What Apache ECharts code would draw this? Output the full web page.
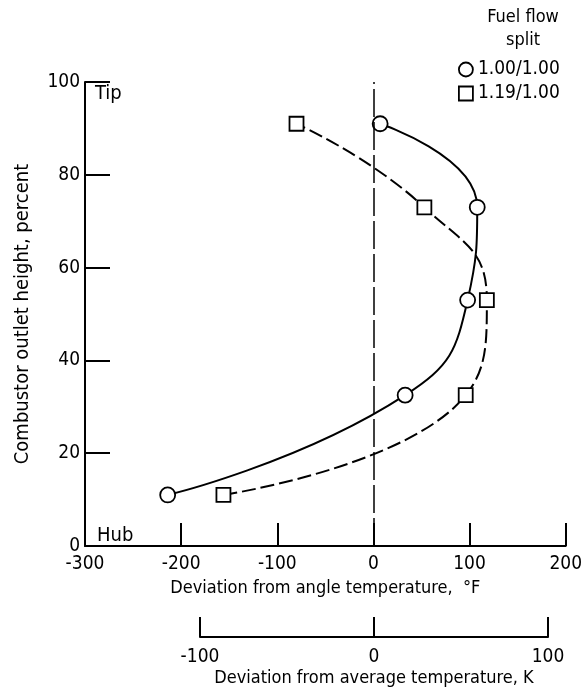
<!DOCTYPE html>
<html>
<head>
<meta charset="utf-8">
<script src="https://cdn.jsdelivr.net/npm/echarts@6/dist/echarts.min.js"></script>
<style>
  html, body { margin: 0; padding: 0; background: #fff; }
  #chart { width: 585px; height: 690px; }
</style>
</head>
<body>
<div id="chart"></div>
<script>
// 数据
const splitNames = ['1.00/1.00', '1.19/1.00'];
const heightCircle = [11, 32.5, 53, 73, 91];      // percent
const devCircle = [-214, 33, 98, 108, 7];          // °F
const heightSquare = [11, 32.5, 53, 73, 91];
const devSquare = [-156, 96, 118, 53, -80];
const fTicks = { min: -300, max: 200, step: 100 };
const kTicks = { min: -100, max: 100, step: 100 };

const font = "'DejaVu Sans Condensed', 'DejaVu Sans', sans-serif";
const black = '#000';

const chart = echarts.init(document.getElementById('chart'));

const toPairs = (xs, ys) => xs.map((x, i) => [x, ys[i]]);

const markerStyle = { color: '#fff', borderColor: black, borderWidth: 1.8 };
const txt = (text, x, y, size, align) => ({
  type: 'text', x, y,
  style: { text, font: size + 'px ' + font, fill: black, align: align || 'left', verticalAlign: 'middle' }
});

const option = {
  animation: false,
  backgroundColor: '#fff',
  textStyle: { fontFamily: font, color: black },
  grid: [
    { left: 85, right: 17, top: 82, bottom: 144 },
    { left: 200, width: 348, top: 609, height: 28 }
  ],
  legend: {
    orient: 'vertical',
    left: 458,
    top: 60,
    padding: 0,
    itemGap: 5,
    itemWidth: 14,
    itemHeight: 14,
    textStyle: { fontFamily: font, fontSize: 19, color: black },
    data: [
      { name: splitNames[0], icon: 'circle', itemStyle: markerStyle },
      { name: splitNames[1], icon: 'rect', itemStyle: markerStyle }
    ]
  },
  graphic: [
    txt('Tip', 95, 94, 20),
    txt('Hub', 97, 536, 20),
    txt('Fuel flow', 523, 17, 18, 'center'),
    txt('split', 523, 40, 18, 'center')
  ],
  xAxis: [
    {
      type: 'value',
      gridIndex: 0,
      min: fTicks.min,
      max: fTicks.max,
      interval: fTicks.step,
      name: 'Deviation from angle temperature,  °F',
      nameLocation: 'middle',
      nameGap: 30,
      nameTextStyle: { fontFamily: font, fontSize: 18, color: black },
      axisLine: { show: true, onZero: false, lineStyle: { color: black, width: 2 } },
      axisTick: { show: true, inside: true, length: 23, lineStyle: { color: black, width: 2 } },
      splitLine: { show: false },
      axisLabel: { color: black, fontFamily: font, fontSize: 19, margin: 9, showMinLabel: true, showMaxLabel: true }
    },
    {
      type: 'value',
      gridIndex: 1,
      min: kTicks.min,
      max: kTicks.max,
      interval: kTicks.step,
      name: 'Deviation from average temperature, K',
      nameLocation: 'middle',
      nameGap: 32,
      nameTextStyle: { fontFamily: font, fontSize: 18, color: black },
      axisLine: { show: true, lineStyle: { color: black, width: 2 } },
      axisTick: { show: true, inside: true, length: 20, lineStyle: { color: black, width: 2 } },
      splitLine: { show: false },
      axisLabel: { color: black, fontFamily: font, fontSize: 19, margin: 11, showMinLabel: true, showMaxLabel: true }
    }
  ],
  yAxis: [
    {
      type: 'value',
      gridIndex: 0,
      min: 0,
      max: 100,
      interval: 20,
      name: 'Combustor outlet height, percent',
      nameLocation: 'middle',
      nameGap: 52,
      nameTextStyle: { fontFamily: font, fontSize: 20, color: black },
      axisLine: { show: true, onZero: false, lineStyle: { color: black, width: 2 } },
      axisTick: { show: true, inside: true, length: 25, lineStyle: { color: black, width: 2 } },
      splitLine: { show: false },
      axisLabel: { color: black, fontFamily: font, fontSize: 19, margin: 5 }
    },
    { type: 'value', gridIndex: 1, min: 0, max: 1, show: false }
  ],
  series: [
    {
      name: splitNames[0],
      type: 'line',
      xAxisIndex: 0,
      yAxisIndex: 0,
      data: toPairs(devCircle, heightCircle),
      smooth: 0.5,
      symbol: 'circle',
      symbolSize: 15,
      itemStyle: markerStyle,
      lineStyle: { color: black, width: 2 },
      z: 3,
      markLine: {
        silent: true,
        symbol: 'none',
        label: { show: false },
        lineStyle: { color: black, width: 1.5, type: [28, 5] },
        data: [{ xAxis: 0 }]
      }
    },
    {
      name: splitNames[1],
      type: 'line',
      xAxisIndex: 0,
      yAxisIndex: 0,
      data: toPairs(devSquare, heightSquare),
      smooth: 0.5,
      symbol: 'rect',
      symbolSize: 14,
      itemStyle: markerStyle,
      lineStyle: { color: black, width: 2, type: [14, 5] },
      z: 3
    }
  ]
};

chart.setOption(option);
</script>
</body>
</html>
